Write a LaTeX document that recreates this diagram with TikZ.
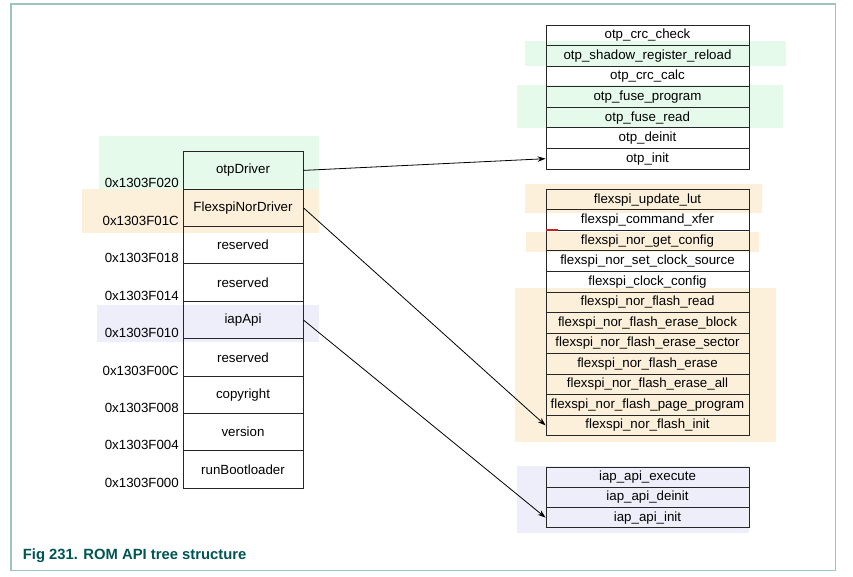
\documentclass[tikz,border=0pt]{standalone}
\usepackage{fontspec}
\setmainfont{Liberation Sans}
\usetikzlibrary{arrows.meta}

\definecolor{otpgreen}{RGB}{229,250,234}
\definecolor{flexorange}{RGB}{253,240,219}
\definecolor{iapblue}{RGB}{238,238,250}
\definecolor{framegray}{RGB}{158,196,188}
\definecolor{captionteal}{RGB}{0,84,84}
\definecolor{markred}{RGB}{205,35,30}

\tikzset{
	cellfont/.style={font=\fontsize{13.3}{15}\selectfont},
	slot/.style={cellfont,draw=black!85,line width=0.9pt,minimum width=120pt,minimum height=37.4pt,inner sep=0pt},
	addr/.style={cellfont,anchor=base east,inner sep=0pt},
	fn/.style={cellfont,draw=black!85,line width=0.9pt,minimum width=203pt,inner sep=0pt},
}

\begin{document}
\begin{tikzpicture}[x=1pt,y=-1pt,>={Stealth[length=8pt,width=5.5pt]}]
		
		\useasboundingbox (0,0) rectangle (853,577);
		
		
		% highlight bands
		\fill[otpgreen] (99,136) rectangle (319,189);
		\fill[flexorange] (82,189) rectangle (319,232.7);
		\fill[iapblue] (97,305) rectangle (319,341.7);
		
		\fill[otpgreen] (525,41) rectangle (786,65.7);
		\fill[otpgreen] (517,85) rectangle (783,128.3);
		
		\fill[flexorange] (525,184) rectangle (761.7,212.7);
		\fill[flexorange] (526,231.7) rectangle (759,251.7);
		\fill[flexorange] (515,288.3) rectangle (775.7,442.3);
		
		\fill[iapblue] (516.7,466) rectangle (749,532.7);
		
		
		% API table
		\foreach \lbl [count=\i from 0] in {otpDriver,FlexspiNorDriver,reserved,reserved,iapApi,reserved,copyright,version,runBootloader}
			\node[slot] (slot\i) at (243,{170.4+37.4*\i}) {\lbl};
		
		\foreach \adr [count=\i from 0] in {0x1303F020,0x1303F01C,0x1303F018,0x1303F014,0x1303F010,0x1303F00C,0x1303F008,0x1303F004,0x1303F000}
			\node[addr] (adr\i) at (179,{188+37.4*\i}) {\adr};
		
		
		% otp functions
		\foreach \nm [count=\i] in {otp\_crc\_check,otp\_shadow\_register\_reload,otp\_crc\_calc,otp\_fuse\_program,otp\_fuse\_read,otp\_deinit,otp\_init}
			\node[fn,minimum height=20.57pt] (otp\i) at (647.5,{25+20.57*(\i-0.5)}) {\nm};
		
		% flexspi functions
		\foreach \nm [count=\i] in {flexspi\_update\_lut,flexspi\_command\_xfer,flexspi\_nor\_get\_config,flexspi\_nor\_set\_clock\_source,flexspi\_clock\_config,flexspi\_nor\_flash\_read,flexspi\_nor\_flash\_erase\_block,flexspi\_nor\_flash\_erase\_sector,flexspi\_nor\_flash\_erase,flexspi\_nor\_flash\_erase\_all,flexspi\_nor\_flash\_page\_program,flexspi\_nor\_flash\_init}
			\node[fn,minimum height=20.53pt] (flex\i) at (647.5,{189.3+20.53*(\i-0.5)}) {\nm};
		
		\draw[markred,line width=1.2pt] (flex3.north west) -- ++(12,0);
		
		% iap functions
		\foreach \nm [count=\i] in {iap\_api\_execute,iap\_api\_deinit,iap\_api\_init}
			\node[fn,minimum height=20.13pt] (iap\i) at (647.5,{467.3+20.13*(\i-0.5)}) {\nm};
		
		
		\draw[->,line width=0.8pt] (slot0.east) -- (otp7.west);
		\draw[->,line width=0.8pt] (slot1.east) -- (flex12.west);
		\draw[->,line width=0.8pt] (slot4.east) -- (iap3.west);
		
		
		\draw[framegray,line width=1.5pt] (11,4) rectangle (835.3,570.7);
		\node[anchor=base west,inner sep=0pt,text=captionteal,font=\fontsize{14.8}{17}\selectfont\bfseries] (caption) at (22.7,559.5) {Fig 231. ROM API tree structure};
		
		
	\end{tikzpicture}
\end{document}
